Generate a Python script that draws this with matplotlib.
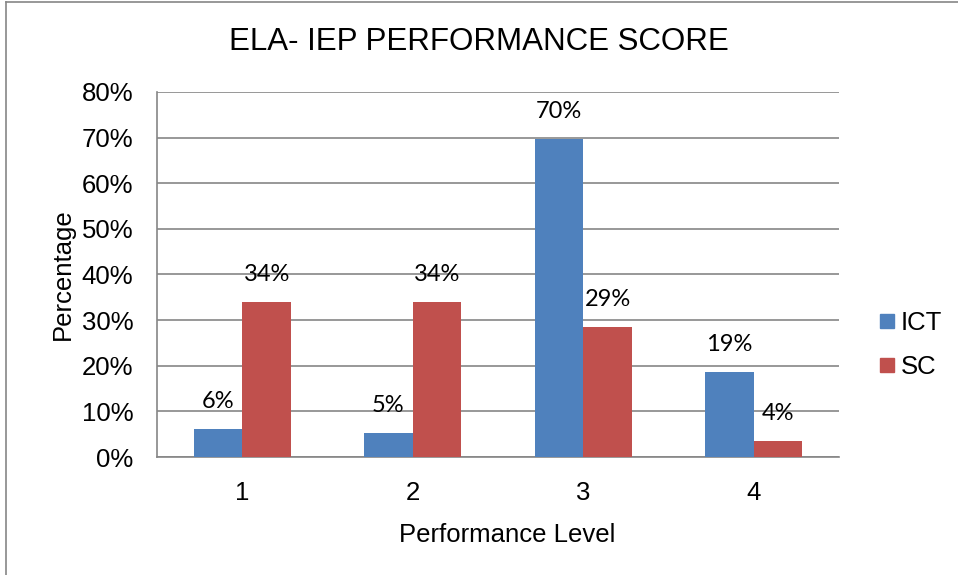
import matplotlib.pyplot as plt
import numpy as np
from matplotlib.ticker import PercentFormatter
from matplotlib.lines import Line2D

# Performance levels and percentages
levels = ['1', '2', '3', '4']
ict = [6.2, 5.3, 69.6, 18.7]
sc = [33.9, 33.9, 28.5, 3.6]
ict_labels = ['6%', '5%', '70%', '19%']
sc_labels = ['34%', '34%', '29%', '4%']

blue = '#4F81BD'
red = '#C0504D'

plt.rcParams['font.family'] = ['Liberation Sans', 'DejaVu Sans']

fig = plt.figure(figsize=(9.58, 5.75), dpi=100)
ax = fig.add_axes([0.1639, 0.2052, 0.7119, 0.635])

x = np.arange(len(levels))
w = 1 / 3.5
ax.bar(x - w / 2, ict, w, color=blue, label='ICT', zorder=3)
ax.bar(x + w / 2, sc, w, color=red, label='SC', zorder=3)

lbl_font = ['Lato', 'DejaVu Sans']
for xi, v, t in zip(x, ict, ict_labels):
    ax.text(xi - w / 2, v + 6, t, ha='center', va='center', fontsize=17, family=lbl_font)
for xi, v, t in zip(x, sc, sc_labels):
    ax.text(xi + w / 2, v + 6, t, ha='center', va='center', fontsize=17, family=lbl_font)

ax.set_xlim(-0.5, 3.5)
ax.set_ylim(0, 80)
ax.set_yticks(range(0, 81, 10))
ax.yaxis.set_major_formatter(PercentFormatter(decimals=0))
ax.set_xticks(x)
ax.set_xticklabels(levels)
ax.tick_params(axis='y', labelsize=18.5, length=0, pad=17)
ax.tick_params(axis='x', labelsize=18.5, length=0, pad=17)
ax.grid(axis='y', color='#868686', linewidth=1.2, zorder=0)
for s in ['top', 'right']:
    ax.spines[s].set_visible(False)
for s in ['left', 'bottom']:
    ax.spines[s].set_color('#868686')
    ax.spines[s].set_linewidth(1.2)

ax.set_ylabel('Percentage', fontsize=18.5, labelpad=5)
ax.set_xlabel('Performance Level', fontsize=18.5, labelpad=11)
ax.xaxis.set_label_coords(0.513, -0.18)
fig.text(0.5, 0.927, 'ELA- IEP PERFORMANCE SCORE', ha='center', va='center', fontsize=22.5)

handles = [Line2D([], [], marker='s', linestyle='', color=blue, markersize=10),
           Line2D([], [], marker='s', linestyle='', color=red, markersize=10)]
fig.legend(handles, ['ICT', 'SC'], loc='center left', bbox_to_anchor=(0.912, 0.40),
           frameon=False, fontsize=18.5, handlelength=1.0, handletextpad=0.05,
           labelspacing=0.75, borderpad=0, borderaxespad=0)

# outer chart border (left and top visible)
fig.add_artist(Line2D([0.006, 0.006], [0, 0.997], color='#868686', linewidth=1.2, transform=fig.transFigure))
fig.add_artist(Line2D([0.006, 1.0], [0.997, 0.997], color='#868686', linewidth=1.2, transform=fig.transFigure))

fig.savefig('out.png', dpi=100)
